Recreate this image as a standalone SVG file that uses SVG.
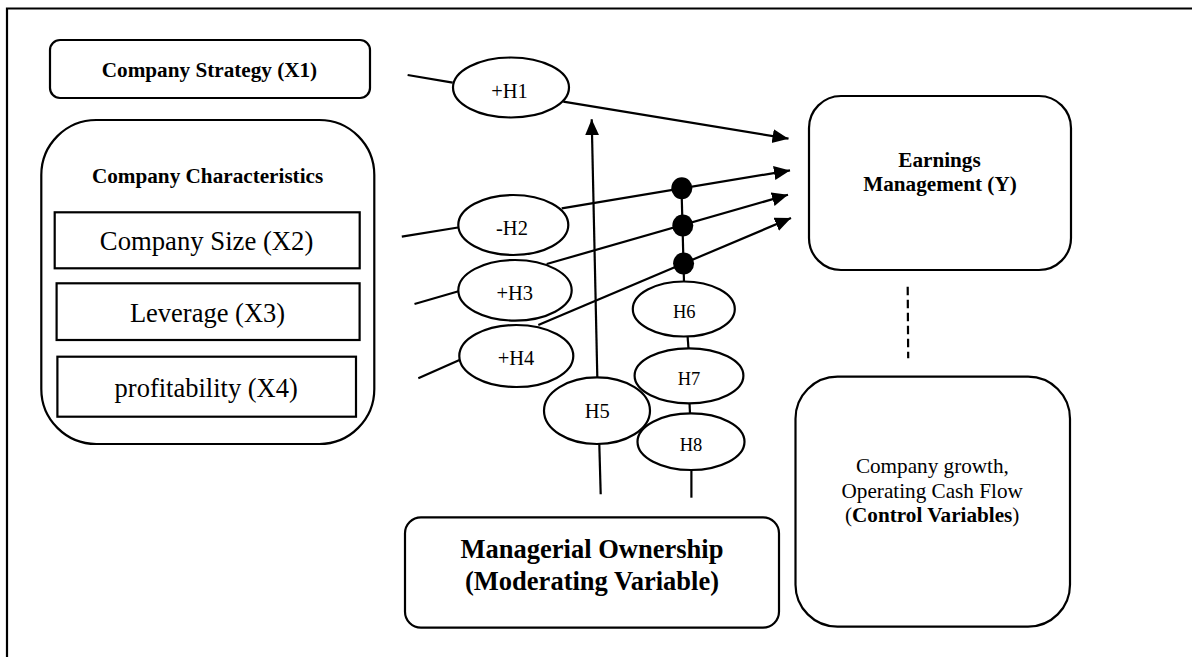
<svg xmlns="http://www.w3.org/2000/svg" width="1192" height="657" viewBox="0 0 1192 657">
<defs>
<style>
.b{fill:#fff;stroke:#000;stroke-width:2.2}
.l{fill:none;stroke:#000;stroke-width:2.2}
.t{font-family:"Liberation Serif","Times New Roman",serif;fill:#000;text-anchor:middle}
.bd{font-weight:bold}
</style>
<marker id="ah" markerUnits="userSpaceOnUse" markerWidth="17" markerHeight="15" refX="16" refY="7" orient="auto">
<path d="M0,0 L16,7 L0,14 z" fill="#000"/>
</marker>
</defs>
<rect width="1192" height="657" fill="#fff"/>
<g id="frame">
<path class="l" d="M7,657 V8.5 H1192" stroke-width="2.4"/>
</g>
<g id="connectors">
<line class="l" x1="407.6" y1="75" x2="452.7" y2="82.7"/>
<line class="l" x1="563.3" y1="101.7" x2="788.5" y2="138.7" marker-end="url(#ah)"/>
<line class="l" x1="401.8" y1="236.7" x2="458" y2="227.5"/>
<line class="l" x1="561.7" y1="208.3" x2="790" y2="170.4" marker-end="url(#ah)"/>
<line class="l" x1="414.5" y1="304" x2="458.5" y2="291.2"/>
<line class="l" x1="546.7" y1="264" x2="788" y2="194.8" marker-end="url(#ah)"/>
<line class="l" x1="418.3" y1="378.3" x2="459.5" y2="360"/>
<line class="l" x1="538.3" y1="325" x2="791" y2="218" marker-end="url(#ah)"/>
<line class="l" x1="597.3" y1="377" x2="591.7" y2="119.3" marker-end="url(#ah)"/>
<line class="l" x1="599.3" y1="444" x2="600.7" y2="494.3"/>
<line class="l" x1="681.5" y1="188" x2="684" y2="282"/>
<line class="l" x1="687.6" y1="336.5" x2="688.5" y2="348.5"/>
<line class="l" x1="689.5" y1="403" x2="690" y2="413.5"/>
<line class="l" x1="691.4" y1="470" x2="691.4" y2="497.7"/>
<line class="l" x1="907.7" y1="286.7" x2="908.2" y2="358.3" stroke-dasharray="8.5,4.5"/>
<ellipse cx="681.8" cy="188.3" rx="10.5" ry="11" fill="#000"/>
<ellipse cx="682.8" cy="225.5" rx="10.5" ry="11" fill="#000"/>
<ellipse cx="683.6" cy="263.5" rx="10.5" ry="11" fill="#000"/>
</g>
<g id="strategy">
<rect class="b" x="50" y="40" width="320" height="58" rx="10"/>
<text class="t bd" x="209.5" y="77" font-size="21.2">Company Strategy (X1)</text>
</g>
<g id="characteristics">
<rect class="b" x="41.3" y="120" width="333" height="324" rx="55"/>
<text class="t bd" x="207.6" y="182.7" font-size="21.2">Company Characteristics</text>
</g>
<g id="size">
<rect class="b" x="54.7" y="212.3" width="305" height="56"/>
<text class="t" x="206.6" y="250" font-size="26.7">Company Size (X2)</text>
</g>
<g id="leverage">
<rect class="b" x="56.6" y="283.3" width="303" height="56.7"/>
<text class="t" x="207.5" y="321.7" font-size="26.5">Leverage (X3)</text>
</g>
<g id="profitability">
<rect class="b" x="57.4" y="356.7" width="298.6" height="60"/>
<text class="t" x="206.2" y="396.7" font-size="26.5">profitability (X4)</text>
</g>
<g id="h1">
<ellipse class="b" cx="511" cy="87.5" rx="58" ry="30"/>
<text class="t" x="509.5" y="98" font-size="20.5">+H1</text>
</g>
<g id="h2">
<ellipse class="b" cx="513.3" cy="225" rx="55" ry="30"/>
<text class="t" x="512" y="235" font-size="20.5">-H2</text>
</g>
<g id="h3">
<ellipse class="b" cx="515" cy="290.3" rx="56.7" ry="30.3"/>
<text class="t" x="514.7" y="300" font-size="20.5">+H3</text>
</g>
<g id="h4">
<ellipse class="b" cx="516.3" cy="356" rx="57" ry="31"/>
<text class="t" x="516" y="365" font-size="20.5">+H4</text>
</g>
<g id="h5">
<ellipse class="b" cx="597" cy="410.7" rx="53" ry="33.3"/>
<text class="t" x="597.2" y="418.3" font-size="20.5">H5</text>
</g>
<g id="h6">
<ellipse class="b" cx="683.8" cy="309" rx="51" ry="27.5"/>
<text class="t" x="684.2" y="318.3" font-size="18.5">H6</text>
</g>
<g id="h7">
<ellipse class="b" cx="689" cy="375.8" rx="54.4" ry="27.5"/>
<text class="t" x="689" y="385" font-size="18.5">H7</text>
</g>
<g id="h8">
<ellipse class="b" cx="691" cy="441.7" rx="53.5" ry="28.3"/>
<text class="t" x="691" y="450.7" font-size="18.5">H8</text>
</g>
<g id="earnings">
<rect class="b" x="809" y="96" width="262" height="174" rx="32"/>
<text class="t bd" x="939.5" y="166.7" font-size="21.2">Earnings</text>
<text class="t bd" x="940" y="190.7" font-size="21.2">Management (Y)</text>
</g>
<g id="control">
<rect class="b" x="795.5" y="376.7" width="274.5" height="250" rx="42"/>
<text class="t" x="932.4" y="473.3" font-size="21.2">Company growth,</text>
<text class="t" x="932.2" y="498.3" font-size="21.2">Operating Cash Flow</text>
<text class="t" x="932.2" y="521.7" font-size="21.2">(<tspan font-weight="bold">Control Variables</tspan>)</text>
</g>
<g id="managerial">
<rect class="b" x="405" y="517.3" width="374" height="110.4" rx="16"/>
<text class="t bd" x="592" y="558.3" font-size="26.5">Managerial Ownership</text>
<text class="t bd" x="592" y="589.5" font-size="26.5">(Moderating Variable)</text>
</g>
</svg>
